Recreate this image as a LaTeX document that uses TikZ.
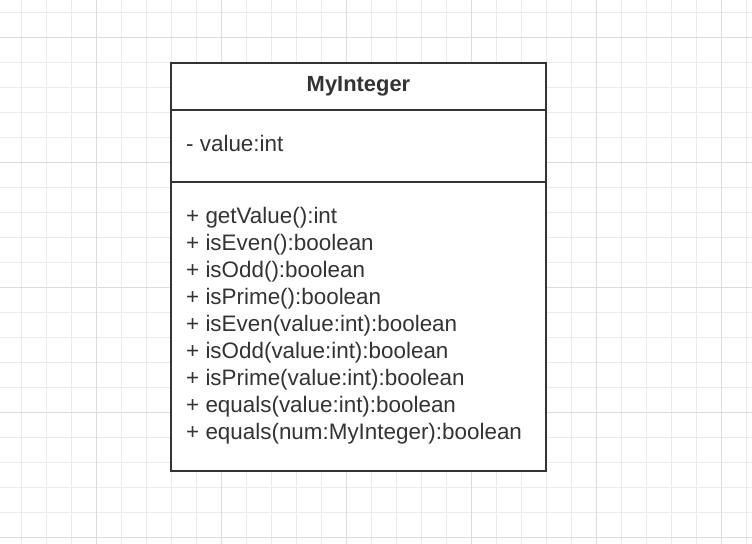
\documentclass[tikz,border=0pt]{standalone}
\usepackage{fontspec}
\setmainfont{Liberation Sans}
\definecolor{ink}{HTML}{333333}
\definecolor{gridminor}{HTML}{EBEBEB}
\definecolor{gridmajor}{HTML}{DCDCDC}
\tikzset{
  minorline/.style={draw=gridminor, line width=1bp},
  majorline/.style={draw=gridmajor, line width=1bp},
  umlborder/.style={draw=ink, line width=2bp},
  membertext/.style={anchor=base west, inner sep=0pt, text=ink, font=\fontsize{22.5}{27}\selectfont},
  titletext/.style={anchor=base, inner sep=0pt, text=ink, font=\fontsize{22}{27}\selectfont\bfseries}
}
\begin{document}
\begin{tikzpicture}[x=1bp,y=-1bp]
\useasboundingbox (0,0) rectangle (752,544);
\fill[white] (0,0) rectangle (752,544);
% grid
\foreach \i in {0,...,29} {
  \draw[minorline] (21.7+25*\i,0) -- (21.7+25*\i,544);
}
\foreach \j in {0,...,21} {
  \draw[minorline] (0,12.3+25*\j) -- (752,12.3+25*\j);
}
\foreach \i in {0,...,5} {
  \draw[majorline] (96.7+125*\i,0) -- (96.7+125*\i,544);
}
\foreach \j in {0,...,4} {
  \draw[majorline] (0,37.3+125*\j) -- (752,37.3+125*\j);
}
% class box
\coordinate (tl) at (171,63);
\coordinate (br) at (546,471);
\coordinate (d1l) at (171,110);
\coordinate (d1r) at (546,110);
\coordinate (d2l) at (171,182.5);
\coordinate (d2r) at (546,182.5);
\fill[white] (tl) rectangle (br);
\draw[umlborder] (d1l) -- (d1r);
\draw[umlborder] (d2l) -- (d2r);
\draw[umlborder] (tl) rectangle (br);
\node[titletext] (title) at (358.5,91.5) {MyInteger};
\node[membertext] (attr) at (186,151.5) {- value:int};
\node[membertext] (m1) at (186,223.5) {+ getValue():int};
\node[membertext] (m2) at (186,250.5) {+ isEven():boolean};
\node[membertext] (m3) at (186,277.5) {+ isOdd():boolean};
\node[membertext] (m4) at (186,304.5) {+ isPrime():boolean};
\node[membertext] (m5) at (186,331.5) {+ isEven(value:int):boolean};
\node[membertext] (m6) at (186,358.5) {+ isOdd(value:int):boolean};
\node[membertext] (m7) at (186,385.5) {+ isPrime(value:int):boolean};
\node[membertext] (m8) at (186,412.5) {+ equals(value:int):boolean};
\node[membertext] (m9) at (186,439.5) {+ equals(num:MyInteger):boolean};
\end{tikzpicture}
\end{document}
